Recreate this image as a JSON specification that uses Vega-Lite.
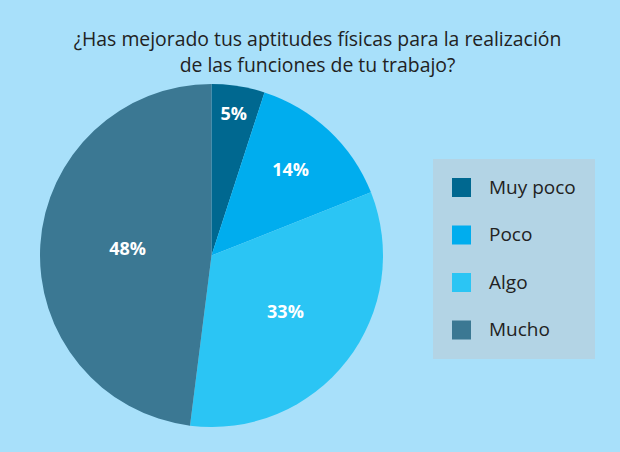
{
  "$schema": "https://vega.github.io/schema/vega-lite/v6.json",
  "autosize": "none",
  "width": 343,
  "height": 343,
  "padding": {"left": 40, "top": 84, "right": 237, "bottom": 25},
  "background": "#a8e0fa",
  "title": {
    "text": ["¿Has mejorado tus aptitudes físicas para la realización", "de las funciones de tu trabajo?"],
    "font": "Open Sans",
    "fontSize": 19.4,
    "fontWeight": "normal",
    "color": "#222222",
    "anchor": "middle",
    "frame": "bounds",
    "lineHeight": 26,
    "offset": 8
  },
  "view": {"stroke": null},
  "data": {
    "values": [
      {"categoria": "Muy poco", "pct": 5, "orden": 1, "etiqueta": "5%"},
      {"categoria": "Poco", "pct": 14, "orden": 2, "etiqueta": "14%"},
      {"categoria": "Algo", "pct": 33, "orden": 3, "etiqueta": "33%"},
      {"categoria": "Mucho", "pct": 48, "orden": 4, "etiqueta": "48%"}
    ]
  },
  "encoding": {
    "theta": {"field": "pct", "type": "quantitative", "stack": true},
    "order": {"field": "orden", "type": "ordinal"}
  },
  "layer": [
    {
      "mark": {"type": "arc", "stroke": null},
      "encoding": {
        "color": {
          "field": "categoria",
          "type": "nominal",
          "scale": {
            "domain": ["Muy poco", "Poco", "Algo", "Mucho"],
            "range": ["#006890", "#00adee", "#2bc5f4", "#3b7893"]
          },
          "legend": {
            "title": null,
            "orient": "none",
            "legendX": 393,
            "legendY": 75,
            "padding": 19,
            "fillColor": "#b3d4e5",
            "strokeColor": null,
            "symbolType": "square",
            "symbolSize": 361,
            "symbolStrokeWidth": 0,
            "labelFont": "Open Sans",
            "labelFontSize": 19,
            "labelColor": "#222222",
            "labelOffset": 18,
            "rowPadding": 27.5
          }
        }
      }
    },
    {
      "mark": {"type": "text", "font": "Open Sans", "fontSize": 18, "fontWeight": "bold", "color": "white", "align": "center", "baseline": "middle"},
      "encoding": {
        "text": {"field": "etiqueta"},
        "radius": {
          "field": "pct",
          "type": "quantitative",
          "scale": {"type": "log", "domain": [5, 48], "range": [142, 84]}
        }
      }
    }
  ]
}
